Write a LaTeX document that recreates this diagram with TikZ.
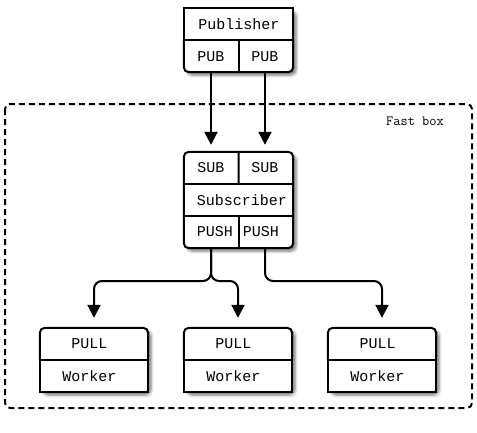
\documentclass[tikz,border=0pt]{standalone}
\usepackage{fontspec}
\newfontfamily\cellfont{Liberation Mono}
\usetikzlibrary{arrows.meta,shadows.blur,calc}
\begin{document}
\begin{tikzpicture}[x=1pt, y=-1pt,
    box/.style={fill=white, draw=none, inner sep=0pt, rounded corners=5pt,
      blur shadow={shadow xshift=3pt, shadow yshift=-3pt, shadow blur radius=3pt, shadow opacity=55}},
    edge/.style={line width=2pt},
    cell/.style={inner sep=0pt, font=\cellfont\fontsize{15}{18}\selectfont},
    link/.style={line width=2pt, rounded corners=8pt, -{Triangle[length=13pt, width=13pt]}},
    fastbox/.style={draw, line width=2pt, dash pattern=on 6pt off 4pt, rounded corners=5pt}]

  \useasboundingbox (0,0) rectangle (477,432);

  \draw[fastbox] (5,104) rectangle (472,408);
  \node[inner sep=0pt, font=\ttfamily\fontsize{14}{16}\selectfont] (fast) at (415,121) {Fast box};

  \node[box, minimum width=109pt, minimum height=64pt] (pub) at (238.5,40) {};
  \node[box, minimum width=109pt, minimum height=96pt] (sub) at (238.5,200) {};
  \node[box, minimum width=108pt, minimum height=64pt] (w1) at (94,360) {};
  \node[box, minimum width=108pt, minimum height=64pt] (w2) at (238,360) {};
  \node[box, minimum width=108pt, minimum height=64pt] (w3) at (382,360) {};

  \draw[edge] (pub.west) |- (pub.north east) -- (pub.east);
  \draw[edge, rounded corners=5pt] (pub.east) |- (pub.south west) -- (pub.west);
  \draw[edge] (pub.west) -- (pub.east);
  \draw[edge] (pub.center) -- (pub.south);

  \draw[edge, rounded corners=5pt] (sub.north west) rectangle (sub.south east);
  \draw[edge] ($(sub.north west)!1/3!(sub.south west)$) -- ($(sub.north east)!1/3!(sub.south east)$);
  \draw[edge] ($(sub.north west)!2/3!(sub.south west)$) -- ($(sub.north east)!2/3!(sub.south east)$);
  \draw[edge] (sub.north) -- ($(sub.north)!1/3!(sub.south)$);
  \draw[edge] ($(sub.north)!2/3!(sub.south)$) -- (sub.south);

  \draw[edge, rounded corners=5pt] (w1.west) |- (w1.north east) -- (w1.east);
  \draw[edge] (w1.east) |- (w1.south west) -- (w1.west);
  \draw[edge] (w1.west) -- (w1.east);
  \draw[edge, rounded corners=5pt] (w2.west) |- (w2.north east) -- (w2.east);
  \draw[edge] (w2.east) |- (w2.south west) -- (w2.west);
  \draw[edge] (w2.west) -- (w2.east);
  \draw[edge, rounded corners=5pt] (w3.west) |- (w3.north east) -- (w3.east);
  \draw[edge] (w3.east) |- (w3.south west) -- (w3.west);
  \draw[edge] (w3.west) -- (w3.east);

  \node[cell] (publisher) at (239,24) {Publisher};
  \node[cell] (pubA) at (211,57) {PUB};
  \node[cell] (pubB) at (265,57) {PUB};

  \node[cell] (subA) at (211,168) {SUB};
  \node[cell] (subB) at (265,168) {SUB};
  \node[cell] (subscriber) at (242,200) {Subscriber};
  \node[cell] (pushA) at (215,232) {PUSH};
  \node[cell] (pushB) at (261,232) {PUSH};

  \node[cell] (pull1) at (89.5,344) {PULL};
  \node[cell] (worker1) at (89.5,376) {Worker};
  \node[cell] (pull2) at (233.5,344) {PULL};
  \node[cell] (worker2) at (233.5,376) {Worker};
  \node[cell] (pull3) at (377.5,344) {PULL};
  \node[cell] (worker3) at (377.5,376) {Worker};

  \coordinate (fork) at (238,281);

  \draw[link, shorten >=7pt] (pubA |- pub.south) -- (subA |- sub.north);
  \draw[link, shorten >=7pt] (pubB |- pub.south) -- (subB |- sub.north);

  \draw[link, shorten >=10pt] (subA |- sub.south) -- (subA |- fork) -| (w1.north);
  \draw[link, shorten >=10pt] (subA |- sub.south) -- (subA |- fork) -| (w2.north);
  \draw[link, shorten >=10pt] (subB |- sub.south) -- (subB |- fork) -| (w3.north);
\end{tikzpicture}
\end{document}
